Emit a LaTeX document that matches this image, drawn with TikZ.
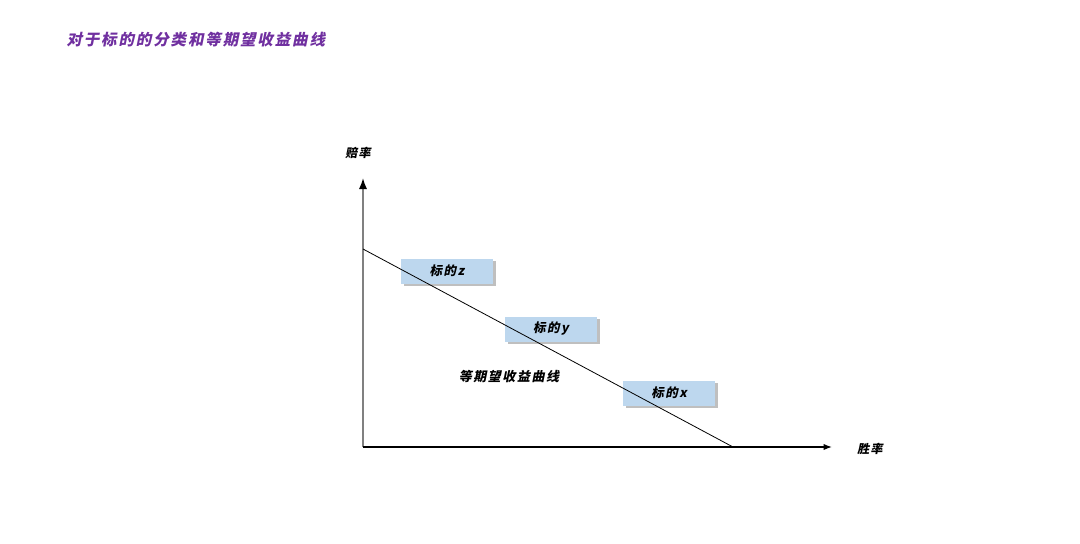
\documentclass[tikz,border=0pt]{standalone}
\usepackage{fontspec}
\usepackage{xcolor}
\usepackage{tikz}
\usetikzlibrary{arrows.meta,shadows}
\newfontfamily\cjk[FakeSlant=0.2,LetterSpace=12]{Noto Sans CJK SC}
\definecolor{titlepurple}{RGB}{112,48,160}
\definecolor{boxblue}{RGB}{189,215,238}
\begin{document}
\begin{tikzpicture}[>=Latex, x=1pt, y=-1pt,
    lbl/.style={font=\cjk\bfseries\fontsize{12}{14}\selectfont, inner sep=1pt},
    tagbox/.style={fill=boxblue, minimum width=92pt, minimum height=25pt,
      font=\cjk\bfseries\fontsize{12.5}{14}\selectfont,
      drop shadow={shadow xshift=2.5pt, shadow yshift=-2.5pt, fill=black!50}}]
  \useasboundingbox (0,0) rectangle (1080,544);
  \node[anchor=west, text=titlepurple, font=\cjk\bfseries\fontsize{15.5}{18}\selectfont]
    (title) at (63,40) {对于标的的分类和等期望收益曲线};
  % axes
  \coordinate (O) at (363,447);
  \coordinate (ytop) at (363,178);
  \coordinate (xend) at (832,447);
  \draw[-{Latex[color=black]}, black!50, line width=1.8pt] (O) -- (ytop);
  \draw[->, line width=1.2pt] (O) -- (xend);
  \node[lbl] (odds) at (358,153) {赔率};
  \node[lbl] (win) at (870,449) {胜率};
  % targets
  \node[tagbox] (tz) at (447,271) {标的z};
  \node[tagbox] (ty) at (551,329) {标的y};
  \node[tagbox] (tx) at (669,393) {标的x};
  % iso-return line
  \coordinate (A) at (363,249);
  \coordinate (B) at (733,447);
  \draw[line width=0.8pt] (A) -- (B);
  \node[lbl, font=\cjk\bfseries\fontsize{13}{15}\selectfont] (curve) at (509,377) {等期望收益曲线};
\end{tikzpicture}
\end{document}
